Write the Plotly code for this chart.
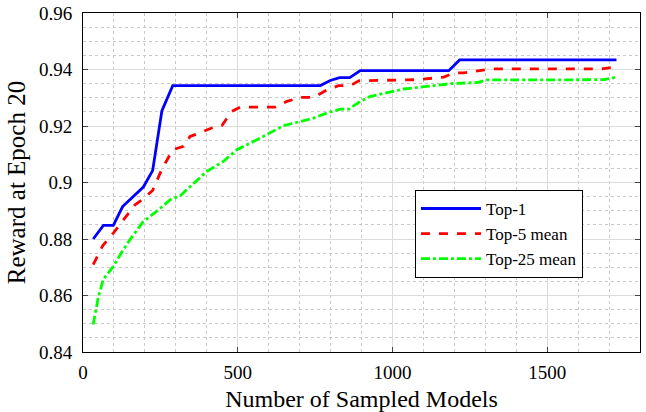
import plotly.graph_objects as go

top1_x = [33, 66, 98, 128, 195, 225, 255, 290, 767, 799, 829, 862, 896, 1182, 1217, 1724]
top1_y = [0.880, 0.8848, 0.8848, 0.8915, 0.8984, 0.9042, 0.9254, 0.9343, 0.9343, 0.9361, 0.9371, 0.9371, 0.9396, 0.9396, 0.9434, 0.9434]

top5_x = [33, 64, 98, 139, 168, 195, 225, 254, 290, 325, 346, 376, 416, 449, 481, 508, 621, 659, 702, 745, 789, 826, 864, 891, 1080, 1166, 1198, 1231, 1317, 1673, 1724]
top5_y = [0.8709, 0.8777, 0.8821, 0.8880, 0.8921, 0.8942, 0.8972, 0.9045, 0.9116, 0.9128, 0.9163, 0.9175, 0.9193, 0.9202, 0.9252, 0.9267, 0.9267, 0.9287, 0.9301, 0.9301, 0.9328, 0.9343, 0.9343, 0.9360, 0.9364, 0.9373, 0.9388, 0.9388, 0.9402, 0.9402, 0.9409]

top25_x = [33, 50, 66, 98, 130, 152, 195, 238, 282, 314, 357, 400, 454, 497, 551, 605, 648, 702, 745, 789, 832, 859, 896, 929, 983, 1037, 1112, 1188, 1274, 1306, 1436, 1598, 1684, 1724]
top25_y = [0.8497, 0.8597, 0.8658, 0.8703, 0.8762, 0.8798, 0.8862, 0.8898, 0.8939, 0.8953, 0.8996, 0.9039, 0.9075, 0.9116, 0.9145, 0.9175, 0.9201, 0.9216, 0.9228, 0.9246, 0.9260, 0.9260, 0.9287, 0.9305, 0.9317, 0.9331, 0.9340, 0.9350, 0.9354, 0.9363, 0.9363, 0.9364, 0.9364, 0.9373]

x_ticks = [0, 500, 1000, 1500]
y_ticks = [0.84, 0.86, 0.88, 0.9, 0.92, 0.94, 0.96]
y_tick_labels = ["0.84", "0.86", "0.88", "0.9", "0.92", "0.94", "0.96"]

font_family = "Liberation Serif"

fig = go.Figure()
fig.add_trace(go.Scatter(x=top1_x, y=top1_y, mode="lines", name="Top-1",
                         line=dict(color="#0000ff", width=2.8)))
fig.add_trace(go.Scatter(x=top5_x, y=top5_y, mode="lines", name="Top-5 mean",
                         line=dict(color="#ff0000", width=2.8, dash="dash")))
fig.add_trace(go.Scatter(x=top25_x, y=top25_y, mode="lines", name="Top-25 mean",
                         line=dict(color="#00ff00", width=2.8, dash="dashdot")))

fig.update_layout(
    width=646, height=412,
    margin=dict(l=83, r=6, t=13, b=60, autoexpand=False),
    paper_bgcolor="white", plot_bgcolor="white",
    font=dict(family=font_family, color="black", size=19),
    showlegend=True,
    legend=dict(x=0.596, y=0.478, xanchor="left", yanchor="top",
                bgcolor="white", bordercolor="black", borderwidth=1,
                font=dict(size=17, family=font_family, color="black"), tracegroupgap=0,
                itemwidth=60),
    xaxis=dict(range=[0, 1800], tickvals=x_ticks, ticks="inside", ticklen=5,
               showline=True, linecolor="black", linewidth=1, mirror="ticks",
               showgrid=True, gridcolor="#dcdcdc", gridwidth=1, zeroline=False,
               minor=dict(dtick=100, showgrid=True, gridcolor="#c8c8c8", griddash="dot", gridwidth=1),
               title=dict(text="Number of Sampled Models", font=dict(size=24, family=font_family), standoff=10),
               tickfont=dict(size=19, family=font_family, color="black"), ticklabelstandoff=3),
    yaxis=dict(range=[0.84, 0.96], tickvals=y_ticks, ticktext=y_tick_labels, ticks="inside", ticklen=5,
               showline=True, linecolor="black", linewidth=1, mirror="ticks",
               showgrid=True, gridcolor="#dcdcdc", gridwidth=1, zeroline=False,
               minor=dict(dtick=0.005, showgrid=True, gridcolor="#c8c8c8", griddash="dot", gridwidth=1),
               title=dict(text="Reward at Epoch 20", font=dict(size=25, family=font_family), standoff=6),
               tickfont=dict(size=19, family=font_family, color="black"), ticklabelstandoff=6),
)

fig.write_html("out.html", config={"displayModeBar": False},
               post_script="document.body.style.margin='0';")
